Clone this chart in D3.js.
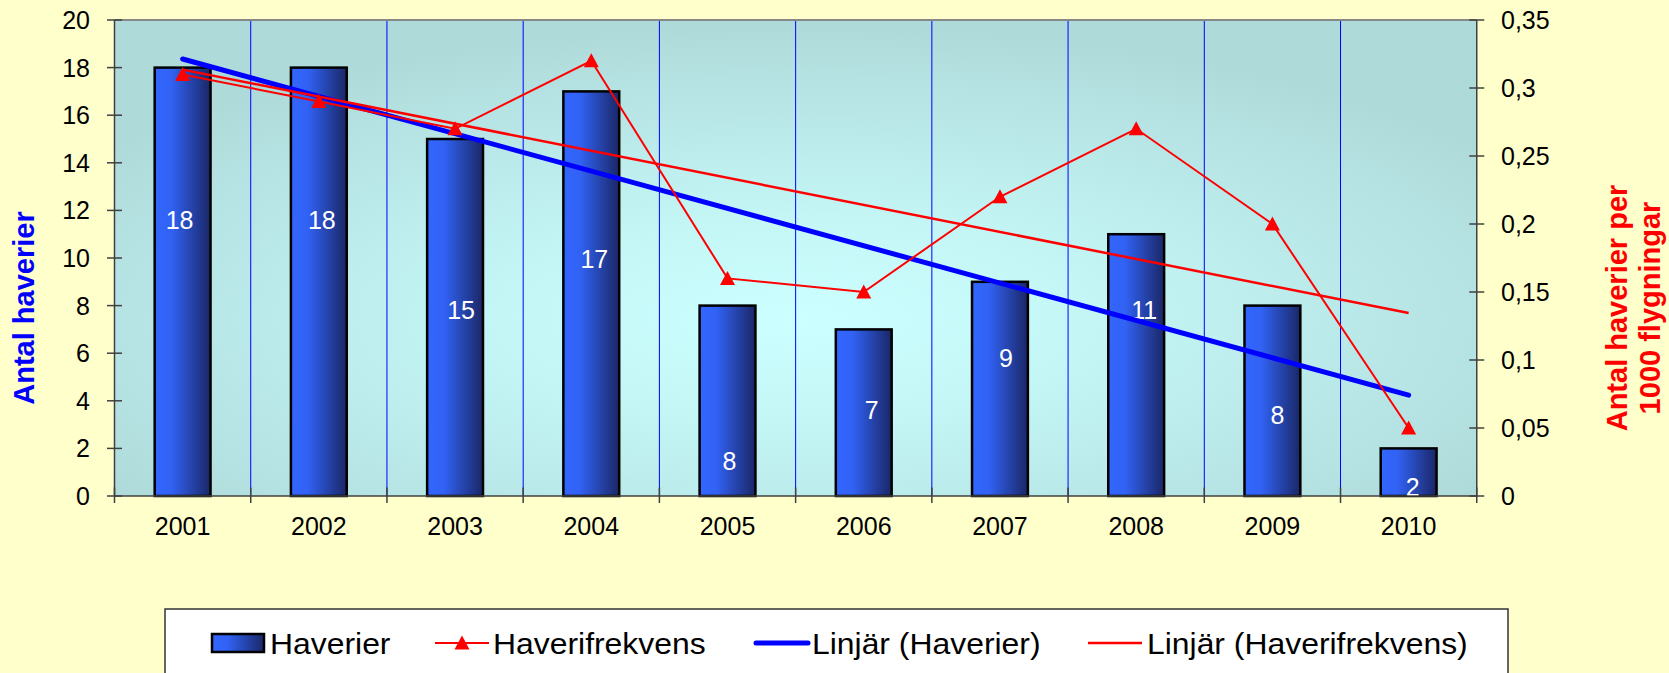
<!DOCTYPE html>
<html><head><meta charset="utf-8">
<script src="https://cdn.jsdelivr.net/npm/d3@7"></script>
<style>
html,body{margin:0;padding:0;background:#FFFFCC;}
svg{display:block;font-family:"Liberation Sans",Arial,sans-serif;}
</style></head>
<body>
<svg id="chart" width="1669" height="673"></svg>
<script>
// ---- data ----
const years = ["2001","2002","2003","2004","2005","2006","2007","2008","2009","2010"];
const haverier = [18, 18, 15, 17, 8, 7, 9, 11, 8, 2];
const haverifrekvens = [0.31, 0.29, 0.27, 0.32, 0.16, 0.15, 0.22, 0.27, 0.20, 0.05];
const trendHaverier = [18.36, 4.24];        // Linjär (Haverier): values at 2001 and 2010
const trendFrekvens = [0.3135, 0.1345];     // Linjär (Haverifrekvens): values at 2001 and 2010
const leftTicks = [0, 2, 4, 6, 8, 10, 12, 14, 16, 18, 20];
const rightTicks = [0, 0.05, 0.1, 0.15, 0.2, 0.25, 0.3, 0.35];
const legendLabels = ["Haverier", "Haverifrekvens", "Linjär (Haverier)", "Linjär (Haverifrekvens)"];
const leftTitle = "Antal haverier";
const rightTitle = ["Antal haverier per", "1000 flygningar"];

// label placement (as in reference, in left-axis units) and x nudges
const labelAt = [11.6, 11.6, 7.8, 9.95, 1.45, 3.6, 5.8, 7.8, 3.4, 0.38];
const labelDx = [-3, 3, 6, 3, 2, 8, 6, 8, 5, 4];

// ---- layout ----
const L = 114.5, R = 1476.75, T = 20, B = 496;
const svg = d3.select("#chart");
const font = '"Liberation Sans",Arial,sans-serif';

const x = d3.scaleBand().domain(years).range([L, R]).paddingInner(0.59).paddingOuter(0.295);
const step = x.step();
const xc = d => x(d) + x.bandwidth() / 2;
const yL = d3.scaleLinear().domain([0, 20]).range([B, T]);
const yR = d3.scaleLinear().domain([0, 0.35]).range([B, T]);

const defs = svg.append("defs");
const bg = defs.append("radialGradient").attr("id", "bg")
  .attr("cx", 0.5).attr("cy", 0.63).attr("r", 0.62).attr("fx", 0.5).attr("fy", 0.63);
bg.append("stop").attr("offset", "0%").attr("stop-color", "#CCFFFF");
bg.append("stop").attr("offset", "35%").attr("stop-color", "#C4F6F6");
bg.append("stop").attr("offset", "100%").attr("stop-color", "#AFDADA");

const bar = defs.append("linearGradient").attr("id", "bar").attr("x1", 0).attr("x2", 1).attr("y1", 0).attr("y2", 0);
bar.append("stop").attr("offset", "0%").attr("stop-color", "#3366FF");
bar.append("stop").attr("offset", "30%").attr("stop-color", "#3162F4");
bar.append("stop").attr("offset", "100%").attr("stop-color", "#1A2766");

defs.append("clipPath").attr("id", "plotclip").append("rect")
  .attr("x", L).attr("y", T).attr("width", R - L).attr("height", B - T);

// plot area
svg.append("rect").attr("x", L).attr("y", T).attr("width", R - L).attr("height", B - T)
  .attr("fill", "url(#bg)");

// vertical gridlines between categories
const bounds = d3.range(1, years.length).map(i => L + i * step);
svg.append("g").selectAll("line").data(bounds).join("line")
  .attr("x1", d => d).attr("x2", d => d).attr("y1", T).attr("y2", B)
  .attr("stroke", "#0000FF").attr("stroke-width", 1);

// top border
svg.append("line").attr("x1", L).attr("x2", R).attr("y1", T).attr("y2", T)
  .attr("stroke", "#888").attr("stroke-width", 2);

// bars
svg.append("g").selectAll("rect").data(haverier).join("rect")
  .attr("x", (d, i) => x(years[i])).attr("y", d => yL(d))
  .attr("width", x.bandwidth()).attr("height", d => B - yL(d))
  .attr("fill", "url(#bar)").attr("stroke", "#000").attr("stroke-width", 2.5);

// bar labels
svg.append("g").attr("clip-path", "url(#plotclip)").selectAll("text").data(haverier).join("text")
  .attr("x", (d, i) => xc(years[i]) + labelDx[i]).attr("y", (d, i) => yL(labelAt[i]))
  .attr("text-anchor", "middle").attr("dominant-baseline", "central")
  .attr("fill", "#fff").attr("font-size", 25).text(d => d);

// axes lines
svg.append("line").attr("x1", L).attr("x2", L).attr("y1", T).attr("y2", B).attr("stroke", "#404040").attr("stroke-width", 1.5);
svg.append("line").attr("x1", R).attr("x2", R).attr("y1", T).attr("y2", B).attr("stroke", "#404040").attr("stroke-width", 1.5);
svg.append("line").attr("x1", L).attr("x2", R).attr("y1", B).attr("y2", B).attr("stroke", "#404040").attr("stroke-width", 1.5);

// left axis
const gl = svg.append("g");
gl.selectAll("line").data(leftTicks).join("line")
  .attr("x1", L - 7.5).attr("x2", L + 7.5).attr("y1", d => yL(d)).attr("y2", d => yL(d))
  .attr("stroke", "#404040").attr("stroke-width", 1.5);
gl.selectAll("text").data(leftTicks).join("text")
  .attr("x", 90).attr("y", d => yL(d)).attr("text-anchor", "end").attr("dominant-baseline", "central")
  .attr("font-size", 25).attr("fill", "#000").text(d => d);

// right axis
const gr = svg.append("g");
gr.selectAll("line").data(rightTicks).join("line")
  .attr("x1", R - 7.5).attr("x2", R + 7.5).attr("y1", d => yR(d)).attr("y2", d => yR(d))
  .attr("stroke", "#404040").attr("stroke-width", 1.5);
gr.selectAll("text").data(rightTicks).join("text")
  .attr("x", 1501).attr("y", d => yR(d)).attr("text-anchor", "start").attr("dominant-baseline", "central")
  .attr("font-size", 25).attr("fill", "#000").text(d => String(d).replace(".", ","));

// bottom axis ticks & labels
const bt = d3.range(0, years.length + 1).map(i => L + i * step);
svg.append("g").selectAll("line").data(bt).join("line")
  .attr("x1", d => d).attr("x2", d => d).attr("y1", B - 8.5).attr("y2", B + 7)
  .attr("stroke", "#404040").attr("stroke-width", 1.5);
svg.append("g").selectAll("text").data(years).join("text")
  .attr("x", d => xc(d)).attr("y", 535).attr("text-anchor", "middle")
  .attr("font-size", 25).attr("fill", "#000").text(d => d);

// trend: Linjär (Haverier)
const ends = [years[0], years[years.length - 1]];
svg.append("line")
  .attr("x1", xc(ends[0])).attr("y1", yL(trendHaverier[0]))
  .attr("x2", xc(ends[1])).attr("y2", yL(trendHaverier[1]))
  .attr("stroke", "#0000FF").attr("stroke-width", 5).attr("stroke-linecap", "round");

// Haverifrekvens line
const line = d3.line().x((d, i) => xc(years[i])).y(d => yR(d));
svg.append("path").datum(haverifrekvens).attr("d", line)
  .attr("fill", "none").attr("stroke", "#FF0000").attr("stroke-width", 2);
const tri = "M0,-7.5 L7.5,6.5 L-7.5,6.5 Z";
svg.append("g").selectAll("path").data(haverifrekvens).join("path")
  .attr("transform", (d, i) => `translate(${xc(years[i])},${yR(d)})`)
  .attr("d", tri).attr("fill", "#FF0000");

// trend: Linjär (Haverifrekvens)
svg.append("line")
  .attr("x1", xc(ends[0])).attr("y1", yR(trendFrekvens[0]))
  .attr("x2", xc(ends[1])).attr("y2", yR(trendFrekvens[1]))
  .attr("stroke", "#FF0000").attr("stroke-width", 2.5);

// axis titles
svg.append("text").attr("transform", "translate(34,308) rotate(-90)")
  .attr("text-anchor", "middle").attr("font-size", 29).attr("font-weight", "bold")
  .attr("fill", "#0000FF").text(leftTitle);
svg.append("text").attr("transform", "translate(1627,308) rotate(-90)")
  .attr("text-anchor", "middle").attr("font-size", 29).attr("font-weight", "bold")
  .attr("fill", "#FF0000").text(rightTitle[0]);
svg.append("text").attr("transform", "translate(1660,308) rotate(-90)")
  .attr("text-anchor", "middle").attr("font-size", 29).attr("font-weight", "bold")
  .attr("fill", "#FF0000").text(rightTitle[1]);

// legend
const lg = svg.append("g");
lg.append("rect").attr("x", 165).attr("y", 609).attr("width", 1343).attr("height", 100)
  .attr("fill", "#fff").attr("stroke", "#333").attr("stroke-width", 1.5);
const ly = 643;
lg.append("rect").attr("x", 212).attr("y", 634).attr("width", 52).attr("height", 18)
  .attr("fill", "url(#bar)").attr("stroke", "#000").attr("stroke-width", 2.5);
lg.append("line").attr("x1", 435).attr("x2", 489).attr("y1", ly).attr("y2", ly)
  .attr("stroke", "#FF0000").attr("stroke-width", 2);
lg.append("path").attr("transform", `translate(462,${ly})`).attr("d", tri).attr("fill", "#FF0000");
lg.append("line").attr("x1", 756).attr("x2", 808).attr("y1", ly).attr("y2", ly)
  .attr("stroke", "#0000FF").attr("stroke-width", 5).attr("stroke-linecap", "round");
lg.append("line").attr("x1", 1088).attr("x2", 1142).attr("y1", ly).attr("y2", ly)
  .attr("stroke", "#FF0000").attr("stroke-width", 2.5);
const lx = [270, 493, 812, 1147];
lg.selectAll("text.lt").data(legendLabels).join("text").attr("class", "lt")
  .attr("transform", (d, i) => `translate(${lx[i]},654) scale(1.1,1)`)
  .attr("font-size", 29).attr("fill", "#000").text(d => d);
</script>
</body></html>
